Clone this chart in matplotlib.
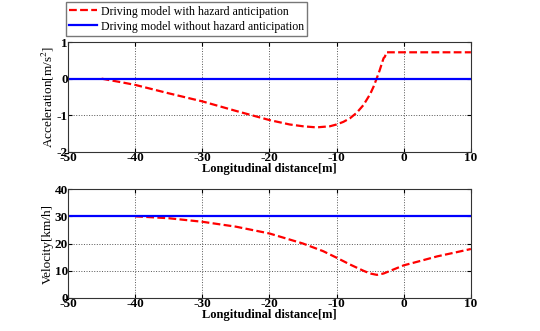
import matplotlib
matplotlib.use("Agg")
import matplotlib.pyplot as plt

plt.rcParams['font.family'] = ['Liberation Serif', 'DejaVu Serif']
plt.rcParams['mathtext.fontset'] = 'stix'
plt.rcParams['axes.unicode_minus'] = False

# acceleration with hazard anticipation
acc_x = [-45, -42, -40, -35, -30, -25, -20, -17, -15, -13, -11, -10, -9, -8, -7, -6, -5, -4.5, -4,
         -3.6, -3.2, -3.0, -2.8, -2.6, 10]
acc_y = [0, -0.1, -0.17, -0.4, -0.62, -0.88, -1.13, -1.25, -1.3, -1.33, -1.3, -1.25, -1.18, -1.08,
         -0.93, -0.72, -0.42, -0.22, 0.02, 0.22, 0.45, 0.56, 0.6, 0.72, 0.72]
acc_base_x = [-50, 10]
acc_base_y = [0, 0]

# velocity with hazard anticipation
vel_x = [-40, -35, -30, -25, -20, -15, -12, -10, -8, -6, -5, -4, -3, -2, -1, 0, 2, 5, 8, 10]
vel_y = [30, 29.3, 28, 26.2, 23.7, 20, 17.2, 14.8, 12.3, 10, 9, 8.5, 9, 10, 11, 12, 13.3, 15.3, 16.9, 18]
vel_base_x = [-50, 10]
vel_base_y = [30, 30]

labels = ['Driving model with hazard anticipation', 'Driving model without hazard anticipation']
xticks = [-50, -40, -30, -20, -10, 0, 10]

fig = plt.figure(figsize=(5.4, 3.31), dpi=100)
ax1 = fig.add_axes([0.126, 0.541, 0.746, 0.332])
ax2 = fig.add_axes([0.126, 0.0997, 0.746, 0.329])

l1, = ax1.plot(acc_x, acc_y, 'r--', lw=1.6, dashes=(3.5, 1.5))
l2, = ax1.plot(acc_base_x, acc_base_y, color='#0000ff', lw=1.6)
ax2.plot(vel_x, vel_y, 'r--', lw=1.6, dashes=(3.5, 1.5))
ax2.plot(vel_base_x, vel_base_y, color='#0000ff', lw=1.6)

ax1.set_ylim(-2, 1)
ax1.set_yticks([-2, -1, 0, 1])
ax1.set_ylabel('Acceleration[m/s$^2$]', fontsize=9.5, labelpad=1)
ax2.set_ylim(0, 40)
ax2.set_yticks([0, 10, 20, 30, 40])
ax2.set_ylabel('Velocity[km/h]', fontsize=9.5, labelpad=1)

for ax in (ax1, ax2):
    ax.set_xlim(-50, 10)
    ax.set_xticks(xticks)
    ax.set_xlabel('Longitudinal distance[m]', fontsize=9, fontweight='bold', labelpad=-1)
    ax.grid(True, linestyle=':', color='#555555', lw=0.7)
    ax.tick_params(direction='in', length=3, labelsize=9.5, pad=0, top=True, right=True)
    for t in ax.get_xticklabels() + ax.get_yticklabels():
        t.set_fontweight('bold')
    for s in ax.spines.values():
        s.set_color('#333333')
        s.set_linewidth(0.8)

fig.legend([l1, l2], labels, loc='upper left', bbox_to_anchor=(0.122, 0.994),
           fontsize=8.6, frameon=True, fancybox=False, edgecolor='#555555',
           handlelength=2.3, handletextpad=0.3, borderpad=0.3, labelspacing=0.25,
           borderaxespad=0)

fig.savefig('out.png', dpi=100)
